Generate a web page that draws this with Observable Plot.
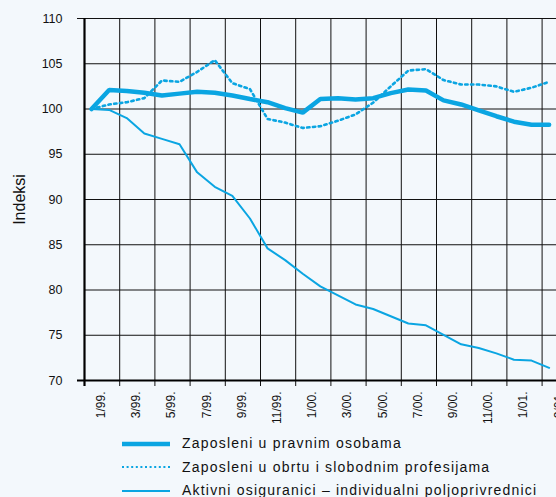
<!DOCTYPE html>
<html>
<head>
<meta charset="utf-8">
<script src="https://cdn.jsdelivr.net/npm/d3@7"></script>
<script src="https://cdn.jsdelivr.net/npm/@observablehq/plot@0.6"></script>
<style>
  html, body { margin: 0; padding: 0; background: #f3f8fc; }
  body { width: 556px; height: 497px; overflow: hidden; position: relative; font-family: "Liberation Sans", Arial, sans-serif; }
  #chart svg { display: block; }
  .legend { position: absolute; left: 0; top: 432px; width: 556px; }
  .row { position: relative; height: 23.5px; }
  .row svg { position: absolute; left: 122px; top: 7.75px; }
  .row span { position: absolute; left: 182px; top: 0; line-height: 23.5px; font-size: 14px; letter-spacing: 1.2px; color: #111; white-space: nowrap; }
</style>
</head>
<body>
<div id="chart"></div>
<div class="legend" id="legend"></div>
<script>
const months = ["1/99.","2/99.","3/99.","4/99.","5/99.","6/99.","7/99.","8/99.","9/99.","10/99.","11/99.","12/99.",
  "1/00.","2/00.","3/00.","4/00.","5/00.","6/00.","7/00.","8/00.","9/00.","10/00.","11/00.","12/00.",
  "1/01.","2/01.","3/01."];
const pravne = [100, 102.1, 102.0, 101.8, 101.5, 101.7, 101.9, 101.8, 101.5, 101.1, 100.75, 100.1, 99.6,
  101.1, 101.2, 101.05, 101.2, 101.75, 102.15, 102.05, 100.95, 100.5, 99.85, 99.2, 98.6, 98.25, 98.25];
const obrt = [100, 100.5, 100.75, 101.2, 103.15, 103.0, 104.1, 105.4, 102.85, 102.2, 98.9, 98.5, 97.9,
  98.1, 98.7, 99.4, 100.7, 102.5, 104.25, 104.4, 103.2, 102.7, 102.7, 102.5, 101.9, 102.35, 103.0];
const aktivni = [100, 99.9, 99.0, 97.3, 96.7, 96.1, 93.0, 91.4, 90.4, 87.9, 84.6, 83.3, 81.8,
  80.4, 79.4, 78.4, 77.9, 77.1, 76.3, 76.1, 75.05, 74.0, 73.6, 73.0, 72.3, 72.2, 71.4];
const yTicks = [70, 75, 80, 85, 90, 95, 100, 105, 110];
const seriesNames = ["Zaposleni u pravnim osobama", "Zaposleni u obrtu i slobodnim profesijama", "Aktivni osiguranici – individualni poljoprivrednici"];
const yLabel = "Indeksi";

const color = "#0aa5e2";
const idx = months.map((m, i) => i);
const tickIdx = idx.filter(i => i % 2 === 0);
const gridX = tickIdx.map(i => i - 0.4);
const toRows = vals => vals.map((v, i) => ({i, v}));

const chart = Plot.plot({
  width: 556, height: 430,
  marginLeft: 84, marginRight: 0, marginTop: 18, marginBottom: 50,
  x: {domain: [-0.4, 26.418], axis: null},
  y: {domain: [70, 110], axis: null},
  style: {background: "transparent", fontFamily: "'Liberation Sans', Arial, sans-serif", color: "#111"},
  marks: [
    Plot.ruleY(yTicks.filter(d => d > 70 && d < 110), {stroke: "#111", strokeWidth: 1}),
    Plot.ruleY([110], {stroke: "#111", strokeWidth: 1.2, insetLeft: -7}),
    Plot.ruleX(gridX.slice(1), {y1: 110, y2: 70, stroke: "#111", strokeWidth: 1, insetBottom: -6}),
    Plot.lineY(toRows(aktivni), {x: "i", y: "v", stroke: color, strokeWidth: 2}),
    Plot.lineY(toRows(obrt), {x: "i", y: "v", stroke: color, strokeWidth: 2.6, strokeDasharray: "2.4 3.4"}),
    Plot.lineY(toRows(pravne), {x: "i", y: "v", stroke: color, strokeWidth: 4.5, strokeLinejoin: "miter"}),
    Plot.ruleX([gridX[0]], {y1: 110, y2: 70, stroke: "#000", strokeWidth: 2.2, insetBottom: -6}),
    Plot.ruleY([70], {stroke: "#000", strokeWidth: 2.2, insetLeft: -7}),
    Plot.text(yTicks, {y: d => d, text: d => String(d), frameAnchor: "left", textAnchor: "end", dx: -22, fontSize: 12.5}),
    Plot.text(tickIdx, {x: d => d + 0.55, text: d => months[d], frameAnchor: "bottom", rotate: -90, textAnchor: "end", lineAnchor: "middle", dy: 11, fontSize: 12}),
    Plot.text([yLabel], {frameAnchor: "left", rotate: -90, dx: -65, fontSize: 16, textAnchor: "middle", lineAnchor: "middle"})
  ]
});
document.getElementById("chart").appendChild(chart);

const styles = [
  {w: 4.5, dash: null},
  {w: 2.2, dash: "2 2.6"},
  {w: 2, dash: null}
];
const legend = document.getElementById("legend");
seriesNames.forEach((name, k) => {
  const row = document.createElement("div");
  row.className = "row";
  const s = styles[k];
  row.innerHTML = `<svg width="48" height="8"><line x1="0" x2="48" y1="4" y2="4" stroke="${color}" stroke-width="${s.w}" ${s.dash ? `stroke-dasharray="${s.dash}"` : ""}/></svg><span></span>`;
  row.querySelector("span").textContent = name;
  legend.appendChild(row);
});
</script>
</body>
</html>
